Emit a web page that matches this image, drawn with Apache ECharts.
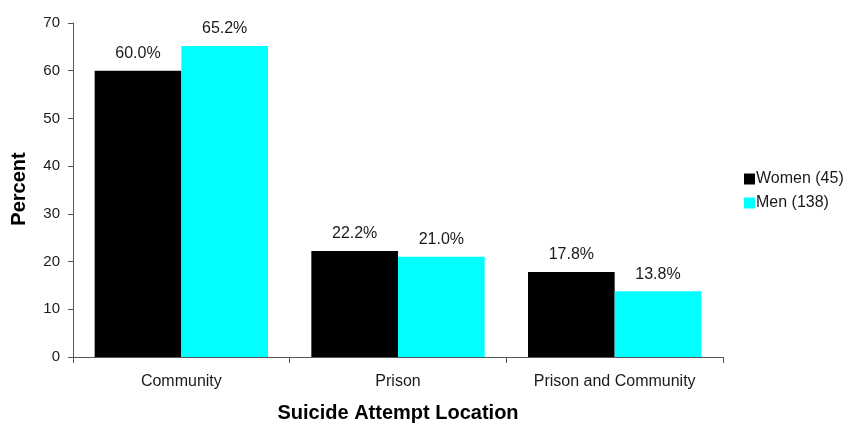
<!DOCTYPE html>
<html>
<head>
<meta charset="utf-8">
<script src="https://cdn.jsdelivr.net/npm/echarts@6/dist/echarts.min.js"></script>
<style>
  html, body { margin: 0; padding: 0; background: #fff; }
  #chart { width: 847px; height: 425px; }
</style>
</head>
<body>
<div id="chart"></div>
<script>
// Suicide attempt location by sex (percent)
const categories = ['Community', 'Prison', 'Prison and Community'];
const womenValues = [60.0, 22.2, 17.8];
const menValues = [65.2, 21.0, 13.8];
const seriesNames = ['Women (45)', 'Men (138)'];
const yTicks = { min: 0, max: 70, interval: 10 };

const FONT = 'Liberation Sans, Arial, sans-serif';
const chart = echarts.init(document.getElementById('chart'), null, { renderer: 'canvas' });

const valueLabel = {
  show: true,
  position: 'top',
  distance: 9,
  color: '#1a1a1a',
  fontFamily: FONT,
  fontSize: 16,
  formatter: p => p.value.toFixed(1) + '%'
};

chart.setOption({
  animation: false,
  backgroundColor: '#ffffff',
  grid: { left: 73, right: 124, top: 23, bottom: 68, containLabel: false },
  legend: {
    orient: 'vertical',
    left: 739,
    top: 166,
    itemWidth: 11,
    itemHeight: 11,
    itemGap: 8,
    icon: 'rect',
    textStyle: { fontFamily: FONT, fontSize: 16, color: '#1a1a1a', padding: [0, 0, 0, -4] },
    data: seriesNames
  },
  xAxis: {
    type: 'category',
    data: categories,
    axisLine: { lineStyle: { color: '#555', width: 1 } },
    axisTick: { show: true, length: 6, lineStyle: { color: '#555' } },
    axisLabel: { fontFamily: FONT, fontSize: 16, color: '#1a1a1a', margin: 17 }
  },
  yAxis: {
    type: 'value',
    min: yTicks.min,
    max: yTicks.max,
    interval: yTicks.interval,
    axisLine: { show: true, lineStyle: { color: '#555', width: 1 } },
    axisTick: { show: true, length: 5, lineStyle: { color: '#555' } },
    splitLine: { show: false },
    axisLabel: { fontFamily: FONT, fontSize: 15, color: '#1a1a1a', margin: 13 }
  },
  graphic: [
    {
      type: 'text',
      x: 19, y: 189,
      rotation: Math.PI / 2,
      style: {
        text: 'Percent', fontFamily: FONT, fontSize: 20, fontWeight: 'bold',
        fill: '#000', align: 'center', verticalAlign: 'middle'
      }
    },
    {
      type: 'text',
      x: 398, y: 413,
      style: {
        text: 'Suicide Attempt Location', fontFamily: FONT, fontSize: 20, fontWeight: 'bold',
        fill: '#000', align: 'center', verticalAlign: 'middle'
      }
    }
  ],
  series: [
    {
      name: seriesNames[0],
      type: 'bar',
      data: womenValues,
      barGap: '0%',
      barCategoryGap: '20%',
      itemStyle: { color: '#000000' },
      label: valueLabel
    },
    {
      name: seriesNames[1],
      type: 'bar',
      data: menValues,
      barGap: '0%',
      barCategoryGap: '20%',
      itemStyle: { color: '#00ffff' },
      label: valueLabel
    }
  ]
});
</script>
</body>
</html>
